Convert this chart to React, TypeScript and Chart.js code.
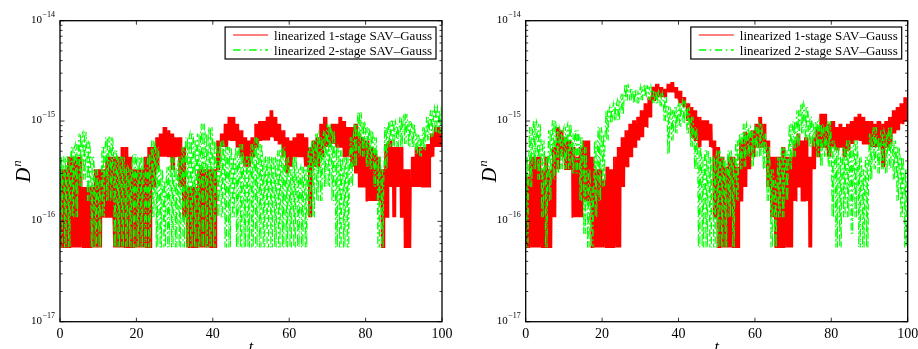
import React, { useEffect, useRef } from 'react';
import { Chart, registerables } from 'chart.js';

Chart.register(...registerables);

// time grid (t = 0..100, step 1)
const tSteps: number[] = Array.from({ length: 101 }, (_, i) => i);
const xTicks = [0, 20, 40, 60, 80, 100];
const yDecades = [-17, -16, -15, -14];
const seriesLabels = ['linearized 1-stage SAV–Gauss', 'linearized 2-stage SAV–Gauss'];
const UNIT = 1e-16; // values below are in units of 1e-16

// ---- left panel ----
const leftRedHi = [
  3.3, 3.3, 4.4, 4.4, 4.4, 4.4, 2.2, 2.2, 2.2, 3.3,
  3.3, 3.3, 4.4, 4.4, 4.4, 4.4, 5.5, 5.5, 4.4, 3.3,
  3.3, 3.3, 4.4, 5.5, 5.5, 6.9, 7.5, 8.7, 8.1, 7.5,
  6.9, 6.9, 5.5, 2.2, 2.2, 2.2, 3.3, 3.3, 3.3, 3.3,
  3.3, 6.4, 7.5, 9.4, 11, 11, 9.4, 8.1, 6.9, 6.4,
  6.9, 9.4, 10, 10, 11, 12.8, 11, 9.4, 8.1, 6.9,
  6.4, 6.9, 7.5, 7.5, 6.9, 5.5, 6.4, 6.9, 9.4, 11,
  8.7, 9.4, 9.4, 11, 10, 8.7, 8.7, 9.4, 7.5, 6.9,
  6.4, 5.5, 5.1, 4.4, 3.3, 5.9, 6.4, 5.5, 5.5, 5.5,
  3.3, 3.3, 4.4, 5.5, 5.5, 5.5, 5.9, 7.5, 8.7, 8.7, 7.5,
];
const leftRedLo = [
  0.55, 0.55, 0.55, 0.55, 0.55, 0.55, 0.55, 0.55, 0.55, 0.55,
  0.55, 1.1, 1.1, 1.1, 0.55, 0.55, 0.55, 0.55, 0.55, 0.55,
  0.55, 0.55, 0.55, 0.55, 2.2, 3.3, 4.4, 4.4, 4.4, 3.3,
  4.4, 2.2, 1.1, 0.55, 0.55, 0.55, 0.55, 0.55, 0.55, 0.55,
  0.55, 3.3, 5.5, 5.5, 6.4, 6.4, 5.5, 4.4, 3.5, 3.5,
  4.4, 5.5, 6.4, 6.4, 6.4, 6.9, 6.4, 5.9, 4.4, 3.0,
  3.5, 4.4, 4.4, 4.4, 3.5, 1.1, 3.5, 3.5, 4.4, 5.5,
  5.5, 5.9, 5.5, 5.5, 4.4, 4.4, 3.5, 3.0, 2.2, 2.2,
  1.6, 1.6, 1.6, 1.6, 0.55, 1.1, 2.2, 1.1, 2.2, 1.1,
  0.55, 0.55, 2.2, 2.2, 2.2, 2.2, 2.2, 4.4, 5.5, 5.5, 5.5,
];
const leftGreenHi = [
  4.4, 4.4, 4.4, 5.5, 5.9, 7.5, 7.8, 6.4, 4.4, 3.3,
  2.6, 5.5, 6.9, 6.9, 5.1, 4.4, 4.4, 3.5, 3.3, 4.7,
  4.4, 4.4, 3.5, 4.7, 6.4, 5.5, 3.3, 2.6, 3.5, 4.4,
  3.5, 4.4, 5.5, 6.9, 7.5, 6.4, 7.5, 9.4, 7.5, 8.7,
  6.4, 5.5, 6.4, 5.5, 5.5, 4.4, 5.5, 5.9, 4.4, 4.4,
  5.9, 6.9, 5.9, 4.4, 4.4, 4.4, 4.4, 5.1, 5.5, 4.4,
  3.3, 4.4, 3.3, 3.5, 3.3, 5.5, 6.4, 7.5, 6.9, 8.1,
  9.4, 8.1, 5.5, 5.1, 4.4, 4.4, 6.9, 9.4, 12.3, 10,
  8.7, 8.1, 6.9, 4.4, 3.3, 8.7, 10, 10, 9.4, 11,
  11.8, 10, 9.4, 7.5, 6.9, 8.7, 11, 12.8, 13.8, 12.8, 11.8,
];
const leftGreenLo = [
  0.55, 0.55, 0.55, 1.1, 1.1, 2.2, 2.6, 1.6, 0.55, 0.55,
  0.55, 1.1, 1.6, 1.6, 0.55, 0.55, 0.55, 0.55, 0.55, 0.55,
  0.55, 0.55, 0.55, 0.55, 1.1, 0.55, 0.55, 0.55, 0.55, 0.55,
  0.55, 0.55, 0.55, 0.55, 0.55, 0.55, 0.55, 0.55, 0.55, 0.55,
  0.55, 1.1, 1.1, 0.55, 0.55, 1.1, 0.55, 0.55, 0.55, 0.55,
  0.55, 0.55, 0.55, 0.55, 0.55, 0.55, 0.55, 0.55, 0.55, 0.55,
  0.55, 0.55, 0.55, 0.55, 0.55, 1.1, 1.1, 1.6, 1.6, 2.2,
  2.2, 1.6, 0.55, 0.55, 0.55, 0.55, 2.2, 3.5, 4.4, 4.4,
  3.5, 3.3, 2.2, 0.55, 0.55, 3.3, 5.5, 5.5, 5.5, 5.5,
  5.9, 5.5, 5.5, 4.7, 4.4, 5.1, 6.4, 6.9, 7.5, 7.5, 8.1,
];

// ---- right panel ----
const rightRedHi = [
  2.8, 4.4, 4.4, 4.4, 3.3, 4.4, 3.3, 5.5, 8.7, 8.1,
  6.9, 6.4, 5.5, 4.4, 5.5, 6.4, 6.4, 4.4, 3.3, 3.3,
  2.6, 3.5, 3.3, 4.4, 5.5, 6.9, 8.1, 9.4, 10.2, 11,
  12.8, 15, 17.3, 22, 23.5, 21.8, 21, 23.5, 24.5, 21.8,
  20, 17.3, 15, 13.8, 12.8, 11, 10.2, 10.2, 9.4, 6.4,
  5.5, 4.4, 3.5, 4.4, 4.4, 3.5, 6.4, 7.8, 7.5, 8.1,
  9.4, 11, 9.4, 6.4, 4.4, 4.4, 4.4, 5.5, 4.4, 4.4,
  6.4, 7.5, 6.4, 6.9, 4.4, 6.9, 8.7, 11.8, 11.8, 9.4,
  10, 8.7, 9.4, 8.7, 9.4, 10, 11, 11.8, 11, 10,
  10, 9.4, 10, 9.4, 10, 11, 12.8, 13.8, 15, 17.3, 20,
];
const rightRedLo = [
  0.55, 0.55, 0.55, 0.55, 0.55, 0.55, 0.55, 1.1, 3.3, 4.4,
  3.3, 3.3, 1.1, 1.1, 1.1, 1.6, 1.6, 0.55, 0.55, 0.55,
  0.55, 0.55, 0.55, 0.55, 0.55, 2.2, 3.5, 4.4, 5.5, 6.4,
  6.9, 8.7, 11, 16, 17.3, 17.3, 17.3, 19.5, 19.5, 17,
  15, 13.8, 10, 6.9, 6.4, 5.5, 6.4, 6.4, 5.5, 1.1,
  0.55, 0.55, 0.55, 0.55, 0.55, 0.55, 1.6, 2.2, 3.3, 4.4,
  5.5, 5.5, 5.5, 2.2, 1.1, 0.55, 0.55, 0.55, 0.55, 0.55,
  1.6, 2.2, 1.6, 1.6, 0.55, 3.3, 4.4, 5.5, 5.5, 4.4,
  5.5, 5.1, 5.5, 4.4, 5.1, 5.9, 6.4, 6.4, 5.9, 5.9,
  5.5, 5.5, 5.5, 3.5, 5.5, 5.9, 7.5, 8.1, 9.4, 10, 11,
];
const rightGreenHi = [
  4.4, 8.7, 10, 9.4, 6.4, 4.4, 8.1, 10.2, 8.7, 8.1,
  8.7, 9.4, 7.5, 8.1, 6.9, 5.5, 3.3, 2.2, 6.4, 8.7,
  7.5, 12.8, 13.8, 15, 16.1, 18.7, 23.5, 21, 20, 20,
  22, 22.5, 22, 20, 20, 19, 17.3, 14, 12.8, 13.8,
  15, 16, 13.8, 11, 8.7, 5.5, 4.4, 5.1, 4.4, 4.4,
  5.1, 4.4, 4.1, 5.1, 4.4, 6.4, 7.5, 9.4, 8.7, 8.1,
  8.7, 9.4, 7.5, 5.5, 3.3, 2.6, 4.4, 5.5, 5.1, 9.4,
  10, 12.8, 15, 13.8, 11, 9.4, 10, 9.4, 8.7, 10,
  6.4, 5.5, 4.4, 5.5, 6.4, 5.5, 6.4, 4.4, 3.3, 4.4,
  7.5, 8.7, 6.9, 8.1, 7.5, 8.7, 6.4, 5.5, 4.4, 3.3, 2.6,
];
const rightGreenLo = [
  0.55, 2.2, 3.3, 2.6, 1.1, 0.55, 1.6, 2.6, 3.0, 3.3,
  3.3, 3.3, 3.0, 3.0, 1.6, 0.75, 0.55, 0.55, 1.1, 1.6,
  2.2, 6.4, 9.4, 10, 10.2, 11.8, 16, 16, 15, 15,
  16.1, 17.3, 16.1, 15, 15, 14, 10, 4.7, 6.4, 7.5,
  8.7, 9.4, 7.5, 5.5, 3.3, 0.55, 0.55, 0.55, 0.55, 0.55,
  0.55, 0.55, 0.55, 1.1, 0.55, 1.6, 3.3, 3.5, 4.4, 3.5,
  4.4, 4.4, 3.3, 1.6, 0.55, 0.55, 1.1, 1.1, 1.6, 3.3,
  4.4, 5.5, 7.5, 6.4, 5.5, 5.5, 4.4, 3.5, 4.4, 3.5,
  1.1, 0.55, 0.55, 1.1, 1.1, 0.75, 1.1, 0.55, 0.55, 0.55,
  2.6, 3.3, 3.0, 3.3, 3.0, 3.3, 2.6, 1.6, 1.1, 0.55, 0.55,
];

const SERIF = '"Liberation Serif", "DejaVu Serif", serif';

// oscillating trace: within each time step the trace swings between the
// read upper and lower values of that step
function trace(hi: number[], lo: number[], sub: number) {
  const pts: { x: number; y: number }[] = [];
  for (let i = 0; i < tSteps.length; i++) {
    const n = i === tSteps.length - 1 ? 1 : sub;
    for (let j = 0; j < n; j++) {
      pts.push({ x: tSteps[i] + j / sub, y: (j % 2 === 0 ? hi[i] : lo[i]) * UNIT });
    }
  }
  return pts;
}

const decorPlugin = {
  id: 'decor',
  afterDatasetsDraw(chart: any) {
    const { ctx, chartArea: a, scales } = chart;
    const xs = scales.x;
    const ys = scales.y;
    ctx.save();
    ctx.strokeStyle = '#000';
    ctx.fillStyle = '#000';

    const seg = (x1: number, y1: number, x2: number, y2: number) => {
      ctx.beginPath();
      ctx.moveTo(x1, y1);
      ctx.lineTo(x2, y2);
      ctx.stroke();
    };

    // ticks (inward, all four sides)
    ctx.lineWidth = 0.8;
    for (const v of xTicks) {
      const px = xs.getPixelForValue(v);
      seg(px, a.bottom, px, a.bottom - 4);
      seg(px, a.top, px, a.top + 4);
    }
    for (const d of yDecades) {
      for (let m = 1; m <= 9; m++) {
        const v = m * Math.pow(10, d);
        if (v > 1.0001e-14) continue;
        const py = ys.getPixelForValue(v);
        const len = m === 1 ? 4.5 : 2.5;
        seg(a.left, py, a.left + len, py);
        seg(a.right, py, a.right - len, py);
      }
    }

    // frame
    ctx.lineWidth = 1.3;
    ctx.strokeRect(a.left, a.top, a.right - a.left, a.bottom - a.top);

    // x tick labels
    ctx.font = `14px ${SERIF}`;
    ctx.textAlign = 'center';
    ctx.textBaseline = 'alphabetic';
    for (const v of xTicks) {
      ctx.fillText(String(v), xs.getPixelForValue(v), a.bottom + 16);
    }

    // y tick labels 10^d
    for (const d of yDecades) {
      const py = ys.getPixelForValue(Math.pow(10, d));
      const exp = '−' + String(Math.abs(d));
      ctx.font = `8px ${SERIF}`;
      const ew = ctx.measureText(exp).width;
      ctx.textAlign = 'right';
      const rx = a.left - 5;
      ctx.fillText(exp, rx, py - 4);
      ctx.font = `11px ${SERIF}`;
      ctx.fillText('10', rx - ew - 0.5, py + 2);
    }

    // x title
    ctx.font = `italic 16px ${SERIF}`;
    ctx.textAlign = 'center';
    ctx.fillText('t', (a.left + a.right) / 2, a.bottom + 30);

    // y title D^n
    ctx.save();
    ctx.translate(a.left - 30, (a.top + a.bottom) / 2);
    ctx.rotate(-Math.PI / 2);
    ctx.font = `italic 20px ${SERIF}`;
    const dw = ctx.measureText('D').width;
    ctx.font = `italic 13px ${SERIF}`;
    const nw = ctx.measureText('n').width;
    const start = -(dw + nw + 1) / 2;
    ctx.textAlign = 'left';
    ctx.font = `italic 20px ${SERIF}`;
    ctx.fillText('D', start, 0);
    ctx.font = `italic 13px ${SERIF}`;
    ctx.fillText('n', start + dw + 1, -9);
    ctx.restore();

    // legend
    ctx.font = `13px ${SERIF}`;
    const tw = Math.max(...seriesLabels.map((s) => ctx.measureText(s).width));
    const boxW = 49 + tw + 4;
    const boxH = 32;
    const bx = a.right - 6 - boxW;
    const by = a.top + 6.3;
    ctx.fillStyle = '#fff';
    ctx.fillRect(bx, by, boxW, boxH);
    ctx.strokeStyle = '#000';
    ctx.lineWidth = 1.2;
    ctx.strokeRect(bx, by, boxW, boxH);
    const colors = ['#ff0000', '#00ff00'];
    const dashes = [[], [7.5, 3.5, 1.5, 3.5]];
    const widths = [1, 1.3];
    seriesLabels.forEach((s, k) => {
      const ly = by + 8 + k * 15;
      ctx.strokeStyle = colors[k];
      ctx.lineWidth = widths[k];
      ctx.setLineDash(dashes[k]);
      seg(bx + 8, ly, bx + 43, ly);
      ctx.setLineDash([]);
      ctx.fillStyle = '#000';
      ctx.textAlign = 'left';
      ctx.textBaseline = 'alphabetic';
      ctx.fillText(s, bx + 49, ly + 4.5);
    });

    ctx.restore();
  },
};

type PanelProps = {
  redHi: number[];
  redLo: number[];
  greenHi: number[];
  greenLo: number[];
  padLeft: number;
  padRight: number;
  left: number;
};

function Panel({ redHi, redLo, greenHi, greenLo, padLeft, padRight, left }: PanelProps) {
  const ref = useRef<HTMLCanvasElement | null>(null);
  useEffect(() => {
    if (!ref.current) return;
    const chart = new Chart(ref.current, {
      type: 'line',
      data: {
        datasets: [
          {
            label: seriesLabels[0],
            data: trace(redHi, redLo, 8),
            borderColor: '#ff0000',
            borderWidth: 1.1,
            pointRadius: 0,
            tension: 0,
            order: 2,
          },
          {
            label: seriesLabels[1],
            data: trace(greenHi, greenLo, 5),
            borderColor: '#00ff00',
            borderWidth: 1.1,
            borderDash: [7, 3, 1.5, 3],
            pointRadius: 0,
            tension: 0,
            order: 1,
          },
        ],
      },
      options: {
        animation: false,
        responsive: false,
        devicePixelRatio: 1,
        layout: { padding: { left: padLeft, right: padRight, top: 20.7, bottom: 27.3 } },
        scales: {
          x: { type: 'linear', min: 0, max: 100, display: false },
          y: { type: 'logarithmic', min: 1e-17, max: 1e-14, display: false },
        },
        plugins: { legend: { display: false }, tooltip: { enabled: false } },
      },
      plugins: [decorPlugin],
    } as any);
    return () => chart.destroy();
  }, []);
  return (
    <canvas
      ref={ref}
      width={459}
      height={349}
      style={{ position: 'absolute', left, top: 0, width: 459, height: 349 }}
    />
  );
}

export default function App() {
  return (
    <div style={{ position: 'absolute', left: 0, top: 0, width: 918, height: 349, background: '#fff' }}>
      <Panel redHi={leftRedHi} redLo={leftRedLo} greenHi={leftGreenHi} greenLo={leftGreenLo} padLeft={60} padRight={17} left={0} />
      <Panel redHi={rightRedHi} redLo={rightRedLo} greenHi={rightGreenHi} greenLo={rightGreenLo} padLeft={66.7} padRight={10.3} left={459} />
    </div>
  );
}
